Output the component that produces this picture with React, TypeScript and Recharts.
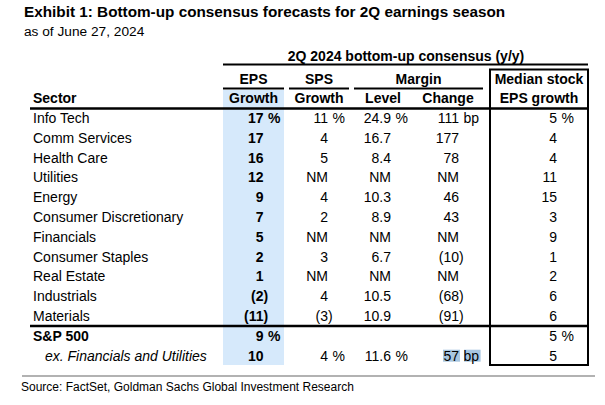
import { ScatterChart, Scatter, XAxis, YAxis } from "recharts";

type Cell = number | "NM" | null;

const sectors = [
  "Info Tech",
  "Comm Services",
  "Health Care",
  "Utilities",
  "Energy",
  "Consumer Discretionary",
  "Financials",
  "Consumer Staples",
  "Real Estate",
  "Industrials",
  "Materials",
  "S&P 500",
  "ex. Financials and Utilities",
];

const epsGrowth: Cell[] = [17, 17, 16, 12, 9, 7, 5, 2, 1, -2, -11, 9, 10];
const spsGrowth: Cell[] = [11, 4, 5, "NM", 4, 2, "NM", 3, "NM", 4, -3, null, 4];
const marginLevel: Cell[] = [24.9, 16.7, 8.4, "NM", 10.3, 8.9, "NM", 6.7, "NM", 10.5, 10.9, null, 11.6];
const marginChange: Cell[] = [111, 177, 78, "NM", 46, 43, "NM", -10, "NM", -68, -91, null, 57];
const medianEps: Cell[] = [5, 4, 4, 11, 15, 3, 9, 1, 2, 6, 6, 5, 5];

const FONT = "'Liberation Sans', Arial, sans-serif";
const FS = 14;

const columns = [
  { key: "eps", values: epsGrowth, unit: "%", unitRows: ["Info Tech", "S&P 500"], bold: true, decimals: 0, dx: 4 },
  { key: "sps", values: spsGrowth, unit: "%", unitRows: ["Info Tech", "ex. Financials and Utilities"], bold: false, decimals: 0, dx: -4.5 },
  { key: "level", values: marginLevel, unit: "%", unitRows: ["Info Tech", "ex. Financials and Utilities"], bold: false, decimals: 1, dx: -14.5 },
  { key: "change", values: marginChange, unit: "bp", unitRows: ["Info Tech", "ex. Financials and Utilities"], bold: false, decimals: 0, dx: -19.5 },
  { key: "median", values: medianEps, unit: "%", unitRows: ["Info Tech", "S&P 500"], bold: false, decimals: 0, dx: 5.5 },
];

const highlighted = ["ex. Financials and Utilities|change"];

function ValueCell(props: any) {
  const { cx, cy, payload } = props;
  const col = columns.find((c) => c.key === payload.col)!;
  const v: Cell = payload.value;
  if (v === null || v === undefined || cx == null) return <g />;
  const ax = cx + col.dx;
  const weight = col.bold ? "bold" : "normal";
  const showUnit = col.unitRows.includes(payload.sector);
  const hl = highlighted.includes(`${payload.sector}|${col.key}`);
  let text: string;
  let x = ax;
  if (v === "NM") {
    text = "NM";
  } else if (v < 0) {
    text = `(${Math.abs(v).toFixed(col.decimals)})`;
    x = ax + 4.7;
  } else {
    text = v.toFixed(col.decimals);
  }
  const unitW = col.unit === "bp" ? 15.6 : 12.4;
  return (
    <g fontFamily={FONT} fontSize={FS} fill="#000">
      {hl && <rect x={ax - 16} y={cy - 6} width={17} height={12} fill="#a8c6e0" />}
      {hl && showUnit && <rect x={ax + 5} y={cy - 6} width={unitW + 1} height={12} fill="#a8c6e0" />}
      <text x={x} y={cy} dy="0.36em" textAnchor="end" fontWeight={weight}>
        {text}
      </text>
      {showUnit && (
        <text x={ax + 4.5} y={cy} dy="0.36em" textAnchor="start" fontWeight={weight}>
          {col.unit}
        </text>
      )}
    </g>
  );
}

function SectorTick(props: any) {
  const { y, payload } = props;
  const name: string = payload.value;
  const isTotal = name === "S&P 500";
  const isSub = name.startsWith("ex.");
  return (
    <text
      x={isSub ? 45 : 33}
      y={y}
      dy="0.36em"
      fontFamily={FONT}
      fontSize={FS}
      fill="#000"
      fontWeight={isTotal ? "bold" : "normal"}
      fontStyle={isSub ? "italic" : "normal"}
    >
      {name}
    </text>
  );
}

export default function App() {
  const seriesData = columns.map((c) =>
    sectors.map((sector, i) => ({ sector, col: c.key, value: c.values[i] }))
  );
  const hdr = { fontFamily: FONT, fontSize: FS, fontWeight: "bold" as const, fill: "#000" };

  return (
    <div style={{ position: "absolute", left: 0, top: 0, background: "#fff" }}>
      <ScatterChart width={605} height={405} margin={{ top: 108, right: 17, bottom: 39.4, left: 30 }}>
        <rect x={223} y={90} width={61} height={275} fill="#d6e9fb" />
        <XAxis type="category" dataKey="col" allowDuplicatedCategory={false} hide />
        <YAxis
          type="category"
          dataKey="sector"
          allowDuplicatedCategory={false}
          reversed
          width={193}
          axisLine={false}
          tickLine={false}
          interval={0}
          tick={<SectorTick />}
        />
        {columns.map((c, i) => (
          <Scatter key={c.key} data={seriesData[i]} shape={<ValueCell />} isAnimationActive={false} />
        ))}

        <text x={24} y={17} fontFamily={FONT} fontSize={15.3} fontWeight="bold" fill="#000">
          Exhibit 1: Bottom-up consensus forecasts for 2Q earnings season
        </text>
        <text x={24} y={36} fontFamily={FONT} fontSize={13.7} fill="#000">
          as of June 27, 2024
        </text>

        <text x={406} y={61} textAnchor="middle" {...hdr}>2Q 2024 bottom-up consensus (y/y)</text>
        <line x1={223} x2={588} y1={64.5} y2={64.5} stroke="#000" strokeWidth={2} />

        <text x={253.5} y={84} textAnchor="middle" {...hdr}>EPS</text>
        <text x={319} y={84} textAnchor="middle" {...hdr}>SPS</text>
        <text x={418.5} y={84} textAnchor="middle" {...hdr}>Margin</text>
        <text x={539} y={84} textAnchor="middle" {...hdr}>Median stock</text>
        <line x1={223} x2={284} y1={88.5} y2={88.5} stroke="#000" strokeWidth={2} />
        <line x1={289} x2={349} y1={88.5} y2={88.5} stroke="#000" strokeWidth={2} />
        <line x1={354} x2={483} y1={88.5} y2={88.5} stroke="#000" strokeWidth={2} />

        <text x={33} y={103.3} {...hdr}>Sector</text>
        <text x={253.5} y={103.3} textAnchor="middle" {...hdr}>Growth</text>
        <text x={319} y={103.3} textAnchor="middle" {...hdr}>Growth</text>
        <text x={383} y={103.3} textAnchor="middle" {...hdr}>Level</text>
        <text x={448} y={103.3} textAnchor="middle" {...hdr}>Change</text>
        <text x={539} y={103.3} textAnchor="middle" {...hdr}>EPS growth</text>

        <line x1={30} x2={588} y1={108.5} y2={108.5} stroke="#000" strokeWidth={2.5} />
        <line x1={30} x2={588} y1={326} y2={326} stroke="#000" strokeWidth={2.5} />
        <rect x={490} y={69.5} width={98} height={295.5} fill="none" stroke="#000" strokeWidth={2} />

        <line x1={22} x2={595} y1={376} y2={376} stroke="#999" strokeWidth={1.5} />
        <text x={21} y={391} fontFamily={FONT} fontSize={12} fill="#000">
          Source: FactSet, Goldman Sachs Global Investment Research
        </text>
      </ScatterChart>
    </div>
  );
}
